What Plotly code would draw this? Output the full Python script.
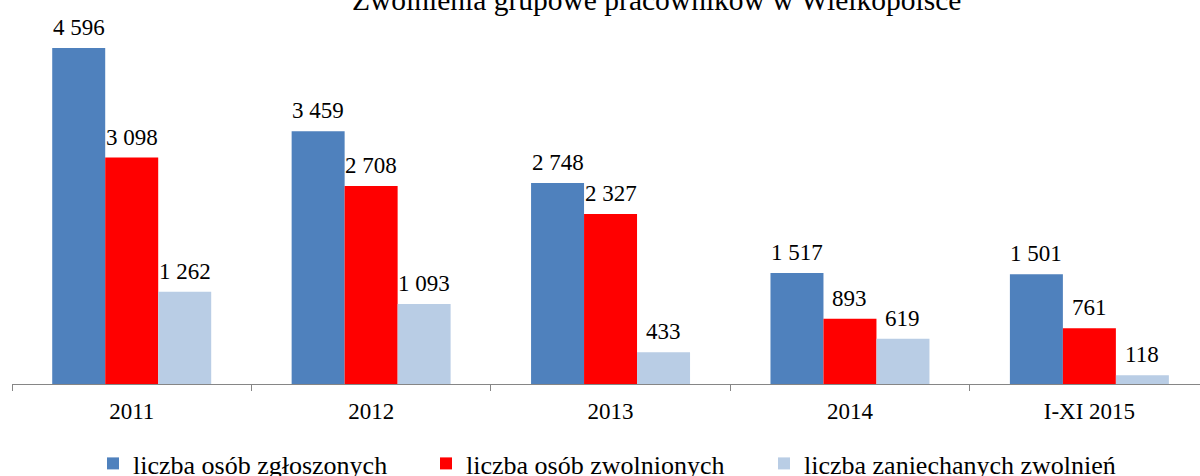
import plotly.graph_objects as go

categories = ["2011", "2012", "2013", "2014", "I-XI 2015"]
zgloszonych = [4596, 3459, 2748, 1517, 1501]
zwolnionych = [3098, 2708, 2327, 893, 761]
zaniechanych = [1262, 1093, 433, 619, 118]
series_names = ["liczba osób zgłoszonych", "liczba osób zwolnionych", "liczba zaniechanych zwolnień"]
colors = ["#4F81BD", "#FF0000", "#B9CDE5"]
title = "Zwolnienia grupowe pracowników w Wielkopolsce"

W, H = 1200, 476
ml, mr, mt, mb = 12, 0, 0, 92
plot_w = W - ml - mr
plot_h = H - mt - mb
x_range = [-0.5, 4.462]
cat_px = plot_w / (x_range[1] - x_range[0])
bargap = 0.336
bar_px = cat_px * (1 - bargap) / 3

FONT = "Times New Roman, Liberation Serif, serif"
legend_ids = ["legend", "legend2", "legend3"]
legend_left_px = [93, 426, 764]

fig = go.Figure()
all_series = [zgloszonych, zwolnionych, zaniechanych]
for name, vals, col, lid in zip(series_names, all_series, colors, legend_ids):
    fig.add_trace(go.Bar(x=categories, y=vals, name=name, legend=lid,
                         marker=dict(color=col, line=dict(width=0))))

annotations = []
for i, vals in enumerate(all_series):
    for j, v in enumerate(vals):
        annotations.append(dict(
            x=j, y=v, xref="x", yref="y", text=f"{v:,}".replace(",", " "),
            showarrow=False, xshift=(i - 1) * bar_px, yanchor="bottom", yshift=6,
            font=dict(family=FONT, size=23, color="black")))

annotations.append(dict(
    x=(656 - ml) / plot_w, y=1, xref="paper", yref="paper", text=title,
    showarrow=False, xanchor="center", yanchor="middle", yshift=0,
    font=dict(family=FONT, size=29.5, color="black")))

legend_layout = {}
for lid, lx in zip(legend_ids, legend_left_px):
    legend_layout[lid] = dict(
        orientation="h", x=(lx - ml) / plot_w, y=-(440 - plot_h) / plot_h,
        xanchor="left", yanchor="top",
        font=dict(family=FONT, size=26, color="black"),
        itemwidth=30, bgcolor="rgba(0,0,0,0)")

fig.update_layout(
    width=W, height=H,
    margin=dict(l=ml, r=mr, t=mt, b=mb, autoexpand=False),
    paper_bgcolor="white", plot_bgcolor="white",
    barmode="group", bargap=bargap, bargroupgap=0,
    font=dict(family=FONT, size=23, color="black"),
    showlegend=True,
    annotations=annotations,
    **legend_layout,
)
fig.update_xaxes(
    type="category", range=x_range, tickson="boundaries",
    showline=True, linecolor="#868686", linewidth=1,
    ticks="outside", ticklen=6, tickcolor="#868686",
    tickfont=dict(family=FONT, size=23, color="black"),
    showgrid=False, zeroline=False, ticklabelstandoff=6,
)
fig.update_yaxes(range=[0, 5253], visible=False, showgrid=False, zeroline=False)

fig.write_html("out.html", config={"displayModeBar": False},
               post_script="document.body.style.margin='0';document.body.style.overflow='hidden';")
